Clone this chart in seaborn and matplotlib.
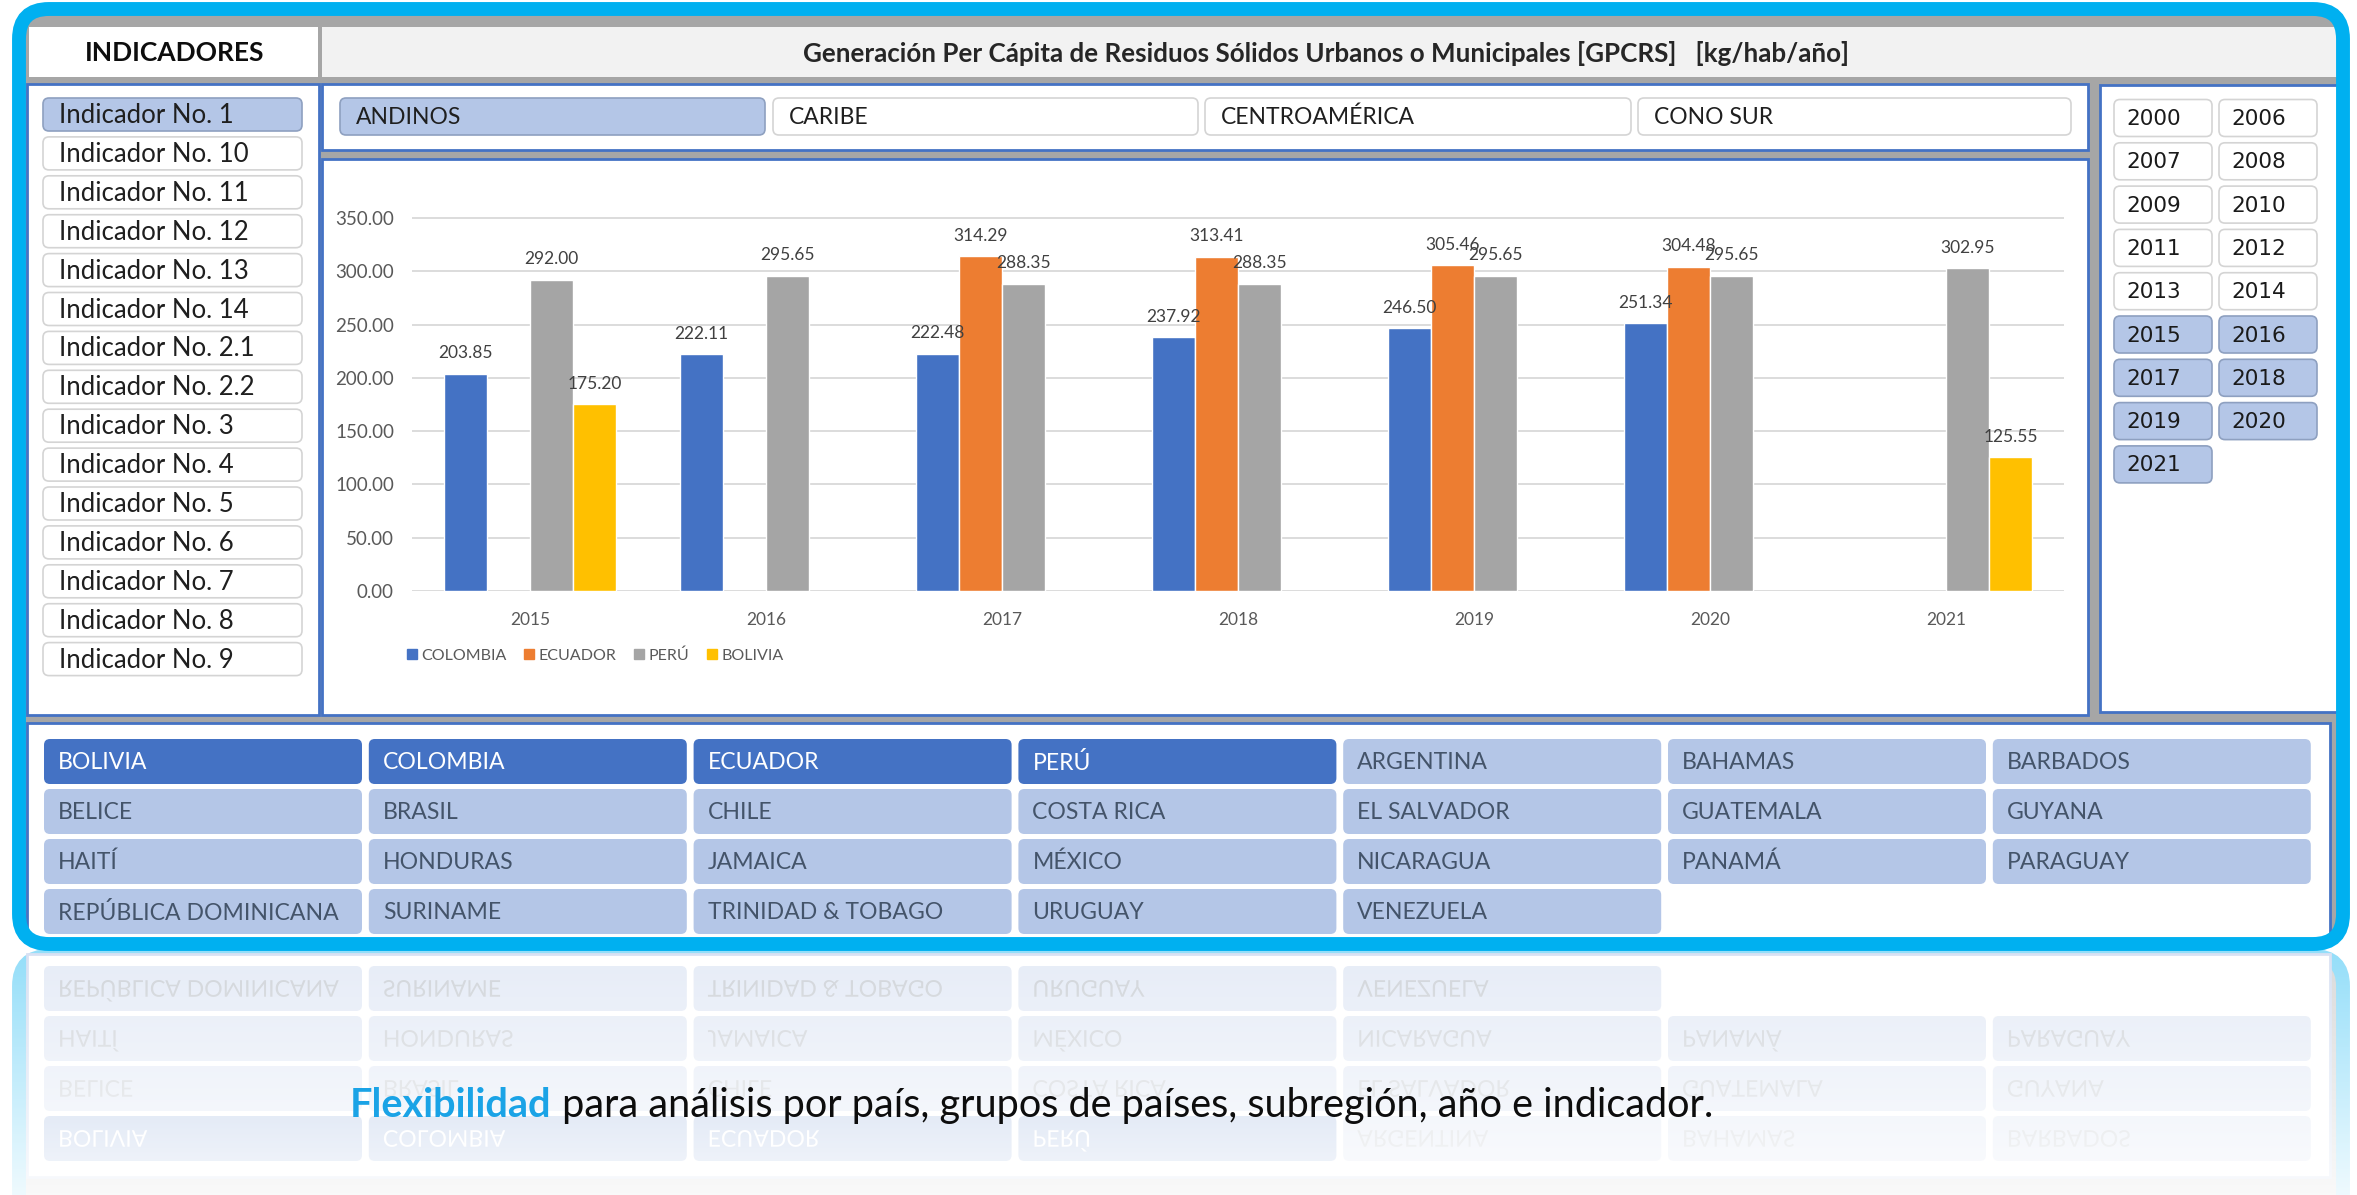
import numpy as np
import pandas as pd
import seaborn as sns
import matplotlib.pyplot as plt
from matplotlib.patches import FancyBboxPatch, PathPatch
from matplotlib.textpath import TextPath
from matplotlib.font_manager import FontProperties
from matplotlib.transforms import Affine2D
from matplotlib.lines import Line2D
from matplotlib.colors import to_rgb

sns.set_theme(style='white')
plt.rcParams['font.family'] = ['Lato', 'DejaVu Sans']

# ---- datos del grafico ----
years = ['2015', '2016', '2017', '2018', '2019', '2020', '2021']
colombia = [203.85, 222.11, 222.48, 237.92, 246.50, 251.34, np.nan]
ecuador = [np.nan, np.nan, 314.29, 313.41, 305.46, 304.48, np.nan]
peru = [292.00, 295.65, 288.35, 288.35, 295.65, 295.65, 302.95]
bolivia = [175.20, np.nan, np.nan, np.nan, np.nan, np.nan, 125.55]
series_names = ['COLOMBIA', 'ECUADOR', 'PERÚ', 'BOLIVIA']
series_colors = ['#4472C4', '#ED7D31', '#A5A5A5', '#FFC000']
y_ticks = [0, 50, 100, 150, 200, 250, 300, 350]

# ---- textos del tablero ----
titulo = 'Generación Per Cápita de Residuos Sólidos Urbanos o Municipales [GPCRS]   [kg/hab/año]'
indicadores = ['Indicador No. 1', 'Indicador No. 10', 'Indicador No. 11', 'Indicador No. 12',
               'Indicador No. 13', 'Indicador No. 14', 'Indicador No. 2.1', 'Indicador No. 2.2',
               'Indicador No. 3', 'Indicador No. 4', 'Indicador No. 5', 'Indicador No. 6',
               'Indicador No. 7', 'Indicador No. 8', 'Indicador No. 9']
indicador_sel = 'Indicador No. 1'
regiones = ['ANDINOS', 'CARIBE', 'CENTROAMÉRICA', 'CONO SUR']
region_sel = 'ANDINOS'
anios = ['2000', '2006', '2007', '2008', '2009', '2010', '2011', '2012', '2013', '2014',
         '2015', '2016', '2017', '2018', '2019', '2020', '2021']
paises = ['BOLIVIA', 'COLOMBIA', 'ECUADOR', 'PERÚ', 'ARGENTINA', 'BAHAMAS', 'BARBADOS',
          'BELICE', 'BRASIL', 'CHILE', 'COSTA RICA', 'EL SALVADOR', 'GUATEMALA', 'GUYANA',
          'HAITÍ', 'HONDURAS', 'JAMAICA', 'MÉXICO', 'NICARAGUA', 'PANAMÁ', 'PARAGUAY',
          'REPÚBLICA DOMINICANA', 'SURINAME', 'TRINIDAD & TOBAGO', 'URUGUAY', 'VENEZUELA']
paises_sel = ['BOLIVIA', 'COLOMBIA', 'ECUADOR', 'PERÚ']
caption_bold = 'Flexibilidad'
caption_rest = ' para análisis por país, grupos de países, subregión, año e indicador.'

W, H = 2357, 1195
fig = plt.figure(figsize=(W / 100, H / 100), dpi=100)
fig.patch.set_facecolor('white')
bg = fig.add_axes([0, 0, 1, 1])
bg.set_xlim(0, W)
bg.set_ylim(H, 0)
bg.axis('off')

SEL = '#B4C6E7'
BLUE = '#4472C4'


def blend(c, a):
    r, g, b = to_rgb(c)
    return (a * r + 1 - a, a * g + 1 - a, a * b + 1 - a)


def caja(x0, y0, x1, y1, fc, ec='none', lw=1.5, r=0, z=1, clip=None):
    style = 'square,pad=0' if r == 0 else f'round,pad=0,rounding_size={r}'
    p = FancyBboxPatch((x0, y0), x1 - x0, y1 - y0, boxstyle=style, fc=fc, ec=ec, lw=lw, zorder=z)
    bg.add_patch(p)
    if clip is not None:
        p.set_clip_path(clip)
    return p


def boton(x0, y0, x1, y1, fc, ec, txt, tc, fs, pad=16, family=None, weight='normal', z=2):
    caja(x0, y0, x1, y1, fc, ec, lw=1.2, r=6, z=z)
    kw = {} if family is None else {'family': family}
    bg.text(x0 + pad, (y0 + y1) / 2 + 1, txt, color=tc, fontsize=fs, va='center', ha='left',
            weight=weight, zorder=z + 1, **kw)


def texto_reflejado(x, yc, s, fs_pt, color, z=3):
    px = fs_pt * 100 / 72
    tp = TextPath((0, 0), s, size=px, prop=FontProperties(family='Lato'))
    path = tp.transformed(Affine2D().translate(x, yc - 0.36 * px))
    bg.add_patch(PathPatch(path, fc=color, ec='none', lw=0, zorder=z))


# ---- marco exterior ----
marco = FancyBboxPatch((19, 9), 2343 - 19, 944 - 9, boxstyle='round,pad=0,rounding_size=30',
                       fc='#A6A6A6', ec='none', zorder=0.5)
bg.add_patch(marco)

# encabezado
caja(29, 27, 318, 77, 'white', clip=marco)
bg.text(175, 53, 'INDICADORES', ha='center', va='center', fontsize=19, weight='bold', color='#0D0D0D')
caja(322, 27, 2340, 77, '#F2F2F2', clip=marco)
bg.text(1326, 53, titulo, ha='center', va='center', fontsize=18.7, weight='bold', color='#262626')

# paneles
caja(27, 84, 319, 715, 'white', BLUE, lw=2)
caja(322, 84, 2088, 150, 'white', BLUE, lw=2)
caja(322, 159, 2088, 715, 'white', BLUE, lw=2)
caja(2100, 85, 2338, 712, 'white', BLUE, lw=2, clip=marco)
caja(27, 723, 2330, 946, 'white', BLUE, lw=2, clip=marco)

# botones de indicadores
for i, nombre in enumerate(indicadores):
    y0 = 98 + 38.9 * i
    sel = nombre == indicador_sel
    boton(43, y0, 302, y0 + 33, SEL if sel else 'white', '#8EA0C0' if sel else '#D4D4D4',
          nombre, '#1F1F1F', 18.5, pad=16)

# botones de subregion
reg_x = [(340, 765), (773, 1198), (1205, 1631), (1638, 2071)]
for (x0, x1), nombre in zip(reg_x, regiones):
    sel = nombre == region_sel
    boton(x0, 98, x1, 135, SEL if sel else 'white', '#8EA0C0' if sel else '#D4D4D4',
          nombre, '#1F1F1F', 16.5, pad=16)

# botones de anios
for i, a in enumerate(anios):
    col, fila = i % 2, i // 2
    x0 = 2114 if col == 0 else 2219
    y0 = 99.5 + 43.3 * fila
    sel = int(a) >= 2015
    boton(x0, y0, x0 + 98, y0 + 37, SEL if sel else 'white', '#8EA0C0' if sel else '#D4D4D4',
          a, '#1A1A1A', 15.5, pad=12, family='DejaVu Sans')

# botones de paises
for k, p in enumerate(paises):
    fila, col = k // 7, k % 7
    x0 = 44 + 324.8 * col
    y0 = 739 + 50 * fila
    sel = p in paises_sel
    boton(x0, y0, x0 + 318, y0 + 45, BLUE if sel else SEL, 'none', p,
          'white' if sel else '#44546A', 16.6, pad=14)

# borde cian
bg.add_patch(FancyBboxPatch((19, 9), 2343 - 19, 944 - 9, boxstyle='round,pad=0,rounding_size=30',
                            fc='none', ec='#00B0F0', lw=10, zorder=4))

# ---- reflejo ----
A = 0.42
refl = FancyBboxPatch((19, 956), 2343 - 19, 1891 - 956, boxstyle='round,pad=0,rounding_size=30',
                      fc=blend('#A6A6A6', A), ec=blend('#00B0F0', A), lw=10, zorder=2)
bg.add_patch(refl)
caja(27, 1900 - 946, 2330, 1900 - 723, 'white', blend(BLUE, A * 0.5), lw=2, z=2.2)
for k, pn in enumerate(paises):
    fila, col = k // 7, k % 7
    x0 = 44 + 324.8 * col
    y0 = 1900 - (739 + 50 * fila + 45)
    sel = pn in paises_sel
    caja(x0, y0, x0 + 318, y0 + 45, blend(BLUE if sel else SEL, A * 0.8), r=6, z=2.5)
    texto_reflejado(x0 + 14, y0 + 22.5, pn, 16.6, blend('white' if sel else '#44546A', A * 0.6), z=2.6)

grad = np.ones((256, 1, 4))
grad[..., 3] = np.linspace(0.0, 0.85, 256)[:, None]
bg.imshow(grad, extent=(0, W, H, 950), aspect='auto', zorder=5, interpolation='bilinear')
bg.set_xlim(0, W)
bg.set_ylim(H, 0)

t1 = bg.text(350, 1117, caption_bold, color='#1AA3E6', fontsize=28.5, weight='bold',
             ha='left', va='baseline', zorder=7)
bg.annotate(caption_rest, xy=(1, 0), xycoords=t1, ha='left', va='bottom', fontsize=28.5,
            color='#0D0D0D', zorder=7)

# ---- grafico de barras ----
filas = []
for nombre, vals in zip(series_names, [colombia, ecuador, peru, bolivia]):
    for yr, v in zip(years, vals):
        filas.append({'Año': yr, 'País': nombre, 'GPCRS': v})
df = pd.DataFrame(filas).dropna()

y_top, y_bot = 218, 591
ax = fig.add_axes([412 / W, 1 - y_bot / H, (2064 - 412) / W, (y_bot - y_top) / H * 351 / 350])
ax.set_facecolor('none')
sns.barplot(data=df, x='Año', y='GPCRS', hue='País', order=years, hue_order=series_names,
            palette=series_colors, width=0.73, saturation=1, errorbar=None, ax=ax, legend=False)
for c in ax.containers:
    ax.bar_label(c, fmt='%.2f', padding=9, fontsize=12.5, color='#404040')

ax.set_ylim(0, 351)
ax.set_yticks(y_ticks)
ax.set_yticklabels([f'{v:.2f}' for v in y_ticks])
ax.set_xlabel('')
ax.set_ylabel('')
ax.yaxis.grid(True, color='#D9D9D9', lw=1.3)
ax.set_axisbelow(True)
for s in ax.spines.values():
    s.set_visible(False)
ax.tick_params(axis='both', length=0, labelsize=12.5, labelcolor='#595959')
ax.tick_params(axis='y', pad=13, labelsize=13.5)
ax.tick_params(axis='x', pad=15)

handles = [Line2D([], [], marker='s', ls='none', markersize=7, color=c) for c in series_colors]
ax.legend(handles, series_names, loc='center left', bbox_to_anchor=(-0.003, -0.172), ncol=4,
          frameon=False, fontsize=11.5, handlelength=0.6, handletextpad=0.3, columnspacing=1.1,
          borderaxespad=0, borderpad=0, labelcolor='#595959')

fig.savefig('out.png', dpi=100)
